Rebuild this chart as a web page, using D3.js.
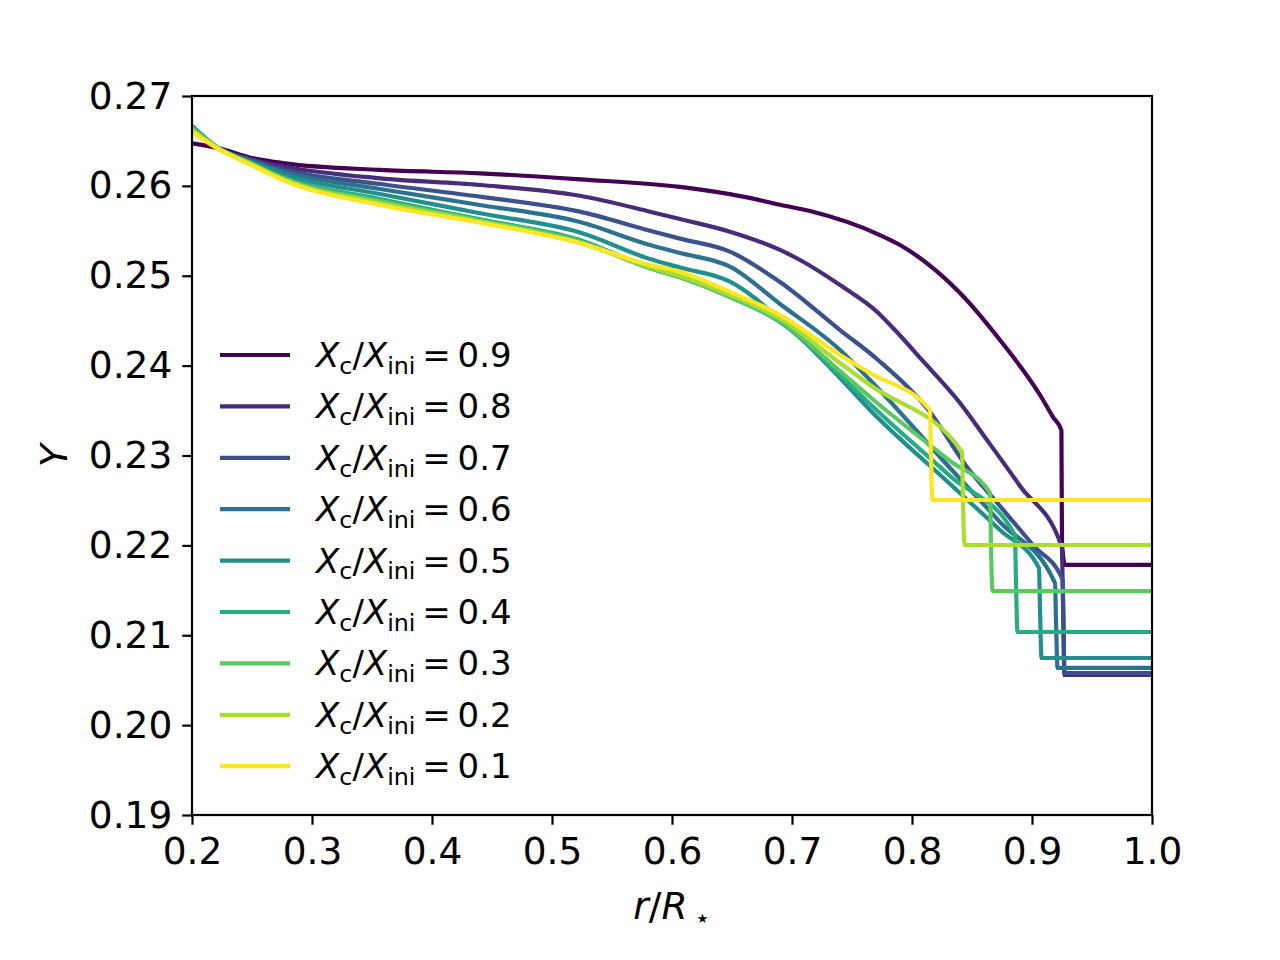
<!DOCTYPE html>
<html>
<head>
<meta charset="utf-8">
<script src="https://cdn.jsdelivr.net/npm/d3@7/dist/d3.min.js"></script>
<style>
  html, body { margin: 0; padding: 0; background: #fff; }
  svg text { font-family: "DejaVu Sans", sans-serif; fill: #000; }
</style>
</head>
<body>
<div id="chart"></div>
<script>
// Helium profile Y(r) for several core hydrogen fractions, [r/R, Y] pairs
const levels = ["0.9", "0.8", "0.7", "0.6", "0.5", "0.4", "0.3", "0.2", "0.1"];
const colors = ["#440154", "#472c7a", "#3b518b", "#2c718e", "#21908d", "#27ad81", "#5cc863", "#aadc32", "#fde725"];

const xc09 = [[0.2, 0.26474], [0.2217, 0.26421], [0.25, 0.2631], [0.2775, 0.26251], [0.3567, 0.26177],
  [0.44, 0.2614], [0.5233, 0.26073], [0.6067, 0.25988], [0.6592, 0.2588], [0.69, 0.2579],
  [0.715, 0.2572], [0.7733, 0.25453], [0.79, 0.25342], [0.84, 0.24808], [0.8733, 0.24285],
  [0.9067, 0.23673], [0.9175, 0.23428], [0.9245, 0.2328], [0.925, 0.22026], [0.9275, 0.21782], [1.0, 0.21782]];
const xc08 = [[0.2, 0.26622], [0.2217, 0.26421], [0.25, 0.26293], [0.2775, 0.26213], [0.3567, 0.26084],
  [0.44, 0.2601], [0.5233, 0.2589], [0.5817, 0.25713], [0.6067, 0.25631], [0.6483, 0.2549],
  [0.69, 0.25287], [0.7067, 0.25175], [0.74, 0.24897], [0.7708, 0.246], [0.7858, 0.24396],
  [0.8083, 0.24063], [0.84, 0.23584], [0.8625, 0.23172], [0.89, 0.22661], [0.9248, 0.21985],
  [0.9258, 0.21392], [0.9271, 0.20558], [1.0, 0.20558]];
const xc07 = [[0.2, 0.26655], [0.2217, 0.26421], [0.25, 0.26282], [0.2775, 0.26177], [0.3567, 0.26021],
  [0.44, 0.2588], [0.5233, 0.25713], [0.5817, 0.25501], [0.6067, 0.25413], [0.6483, 0.25268],
  [0.69, 0.2493], [0.74, 0.24396], [0.7717, 0.24063], [0.815, 0.23484], [0.8458, 0.22872],
  [0.8733, 0.22438], [0.9008, 0.22004], [0.9256, 0.21615], [0.9262, 0.2117], [0.9271, 0.2058], [1.0, 0.2058]];
const xc06 = [[0.2, 0.26666], [0.2217, 0.26421], [0.25, 0.26271], [0.2775, 0.26151], [0.3567, 0.25965],
  [0.44, 0.25787], [0.5233, 0.25598], [0.5817, 0.25342], [0.6067, 0.25253], [0.6483, 0.25101],
  [0.69, 0.24686], [0.74, 0.24174], [0.765, 0.2384], [0.8317, 0.22861], [0.8733, 0.2226],
  [0.9192, 0.21581], [0.92, 0.2117], [0.9213, 0.20636], [1.0, 0.20636]];
const xc05 = [[0.2, 0.26666], [0.2217, 0.26421], [0.25, 0.2626], [0.2775, 0.26121], [0.3567, 0.2591],
  [0.44, 0.25695], [0.5233, 0.25481], [0.5817, 0.25186], [0.6067, 0.25092], [0.6483, 0.24934],
  [0.69, 0.24519], [0.74, 0.23862], [0.765, 0.23506], [0.8317, 0.22683], [0.8733, 0.22171],
  [0.9058, 0.21748], [0.9067, 0.21281], [0.9079, 0.20747], [1.0, 0.20747]];
const xc04 = [[0.2, 0.26655], [0.2217, 0.26421], [0.25, 0.26249], [0.2775, 0.26088], [0.3567, 0.25854],
  [0.44, 0.25628], [0.5233, 0.25398], [0.5817, 0.25086], [0.6067, 0.24986], [0.6483, 0.24764],
  [0.69, 0.24485], [0.74, 0.23896], [0.765, 0.23573], [0.8317, 0.22772], [0.8858, 0.22115],
  [0.8867, 0.21559], [0.8879, 0.21036], [1.0, 0.21036]];
const xc03 = [[0.2, 0.26644], [0.2217, 0.26421], [0.25, 0.26243], [0.2775, 0.26077], [0.3567, 0.25832],
  [0.44, 0.25615], [0.5233, 0.25381], [0.5817, 0.25081], [0.6067, 0.24981], [0.6483, 0.24764],
  [0.69, 0.24497], [0.74, 0.2394], [0.765, 0.23651], [0.8317, 0.22939], [0.865, 0.22583],
  [0.8658, 0.22004], [0.8671, 0.21492], [1.0, 0.21492]];
const xc02 = [[0.2, 0.26622], [0.2217, 0.26421], [0.25, 0.26238], [0.2775, 0.26065], [0.3567, 0.25809],
  [0.44, 0.25604], [0.5233, 0.25364], [0.5817, 0.25097], [0.6067, 0.24997], [0.6483, 0.24786],
  [0.69, 0.24524], [0.74, 0.24029], [0.765, 0.23784], [0.8417, 0.23039], [0.8425, 0.22505],
  [0.8438, 0.22004], [1.0, 0.22004]];
const xc01 = [[0.2, 0.26599], [0.2217, 0.2641], [0.25, 0.26227], [0.2775, 0.26054], [0.3567, 0.25787],
  [0.44, 0.2559], [0.5233, 0.25364], [0.5817, 0.2512], [0.6067, 0.25045], [0.6483, 0.24822],
  [0.69, 0.24563], [0.74, 0.24118], [0.765, 0.23918], [0.815, 0.23506], [0.8158, 0.23006],
  [0.8171, 0.22505], [1.0, 0.22505]];
const profiles = [xc09, xc08, xc07, xc06, xc05, xc04, xc03, xc02, xc01];

const xTicks = [0.2, 0.3, 0.4, 0.5, 0.6, 0.7, 0.8, 0.9, 1.0];
const yTicks = [0.19, 0.20, 0.21, 0.22, 0.23, 0.24, 0.25, 0.26, 0.27];

const margin = { top: 96, right: 128, bottom: 145, left: 192 };
const width = 1280 - margin.left - margin.right;
const height = 960 - margin.top - margin.bottom;
const fs = 37.5;     // tick and axis labels
const lfs = 34;      // legend

const svg = d3.select("#chart").append("svg")
    .attr("width", 1280)
    .attr("height", 960)
  .append("g")
    .attr("transform", "translate(" + margin.left + "," + margin.top + ")");

const x = d3.scaleLinear().domain([0.2, 1.0]).range([0, width]);
const y = d3.scaleLinear().domain([0.19, 0.27]).range([height, 0]);

svg.append("clipPath").attr("id", "clip")
  .append("rect").attr("width", width).attr("height", height);

const line = d3.line()
    .x(d => x(d[0]))
    .y(d => y(d[1]))
    .curve(d3.curveMonotoneX);

// curves, 0.9 first so the yellow one ends on top
svg.append("g").attr("clip-path", "url(#clip)")
  .selectAll("path")
  .data(profiles)
  .join("path")
    .attr("d", line)
    .style("fill", "none")
    .style("stroke", (d, i) => colors[i])
    .style("stroke-width", 4.2)
    .style("stroke-linejoin", "round");

const xAxis = d3.axisBottom(x).tickValues(xTicks).tickFormat(d3.format(".1f"))
    .tickSize(9.7).tickPadding(13).tickSizeOuter(0);
const yAxis = d3.axisLeft(y).tickValues(yTicks).tickFormat(d3.format(".2f"))
    .tickSize(9.7).tickPadding(10).tickSizeOuter(0);

const gx = svg.append("g")
    .attr("transform", "translate(0," + height + ")")
    .call(xAxis);
const gy = svg.append("g").call(yAxis);

[gx, gy].forEach(g => {
  g.select(".domain").remove();
  g.selectAll(".tick line").style("stroke", "#000").style("stroke-width", 2.2);
  g.selectAll(".tick text")
    .style("font-family", "DejaVu Sans")
    .style("font-size", fs + "px");
});

svg.append("rect")
    .attr("width", width)
    .attr("height", height)
    .style("fill", "none")
    .style("stroke", "#000")
    .style("stroke-width", 2.2);

// axis labels
const xl = svg.append("text")
    .attr("x", width / 2)
    .attr("y", height + 104)
    .attr("text-anchor", "middle")
    .style("font-size", fs + "px");
xl.append("tspan").style("font-style", "italic").text("r");
xl.append("tspan").text("/");
xl.append("tspan").style("font-style", "italic").text("R");
xl.append("tspan").attr("dy", fs * 0.2).attr("dx", fs * 0.18)
  .style("font-size", (fs * 0.7) + "px").text("\u22c6");

svg.append("text")
    .attr("transform", "translate(" + (-125) + "," + (height / 2) + ") rotate(-90)")
    .attr("text-anchor", "middle")
    .style("font-size", fs + "px")
    .style("font-style", "italic")
    .text("Y");

// legend
const legend = svg.append("g").attr("transform", "translate(28," + (355 - margin.top) + ")");
const rowH = 51.4;

const item = legend.selectAll("g")
  .data(levels)
  .join("g")
    .attr("transform", (d, i) => "translate(0," + (i * rowH) + ")");

item.append("line")
    .attr("x1", 0).attr("x2", 70)
    .attr("y1", 0).attr("y2", 0)
    .style("stroke", (d, i) => colors[i])
    .style("stroke-width", 4.2);

item.append("text")
    .attr("x", 96)
    .attr("y", 12)
    .style("font-size", lfs + "px")
    .each(function(v) {
      const t = d3.select(this);
      t.append("tspan").style("font-style", "italic").text("X");
      t.append("tspan").attr("dy", lfs * 0.2).style("font-size", (lfs * 0.7) + "px").text("c");
      t.append("tspan").attr("dy", -lfs * 0.2).text("/");
      t.append("tspan").style("font-style", "italic").text("X");
      t.append("tspan").attr("dy", lfs * 0.2).style("font-size", (lfs * 0.7) + "px").text("ini");
      t.append("tspan").attr("dy", -lfs * 0.2).attr("dx", lfs * 0.2).text("=");
      t.append("tspan").attr("dx", lfs * 0.2).text(v);
    });
</script>
</body>
</html>
